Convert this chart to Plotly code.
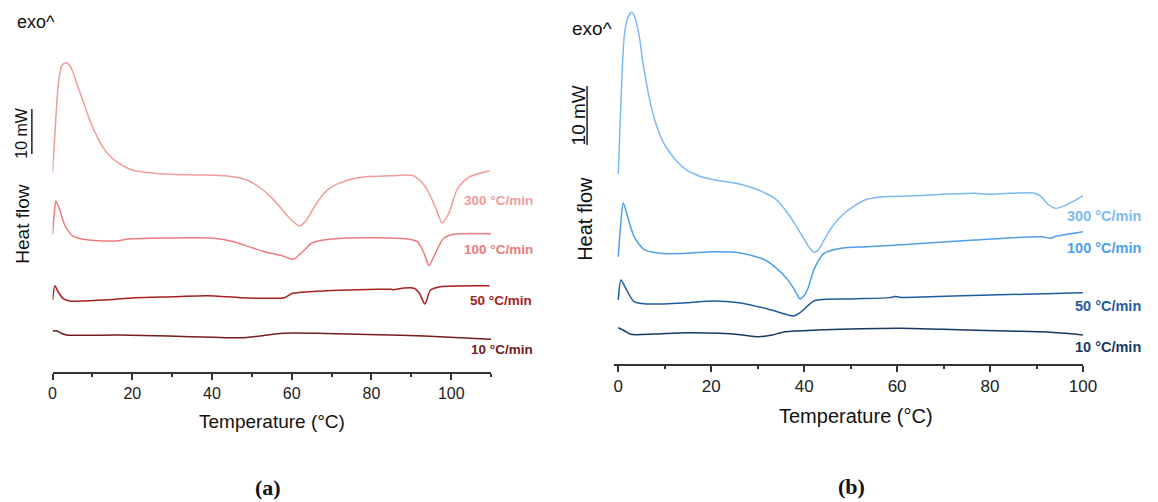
import plotly.graph_objects as go

W, H = 1158, 502
FONT = "Liberation Sans, Arial, sans-serif"

# ---------------- Panel (a): heat flow (mW, stacked), temperature in °C ----------------
a300_T = [0, 0.6, 1.4, 2.2, 2.8, 3.46, 4.2, 5.1, 6.3, 7.6, 8.8, 10.0, 11.3, 12.5, 14.5, 16.6,
          18.6, 20.7, 25, 29, 37.2, 43.8, 46.5, 48.7, 50.8, 52.8, 55, 57.0, 59.4, 61.9, 63.5,
          65.2, 66.8, 68.3, 70.1, 74.2, 79, 85, 89, 90.5, 91.5, 92.8, 94, 96, 97.7, 99.4,
          101.4, 103, 104.7, 107, 109.6]
a300_Q = [44.29, 53.04, 63.4, 67.84, 68.55, 68.73, 68.2, 66.73, 63.5, 60.4, 57.3, 54.5, 52.1,
          50.1, 47.9, 46.4, 45.4, 44.73, 44.2, 43.93, 43.78, 43.56, 43.2, 42.67, 41.7, 40.44,
          38.7, 36.73, 34.22, 32.44, 33.56, 36.0, 38.22, 39.9, 41.18, 42.67, 43.44, 43.62,
          43.78, 43.6, 43.04, 42.0, 40.44, 36.73, 33.18, 35.27, 40.44, 42.3, 43.4, 44.1, 44.67]

a100_T = [0, 0.4, 0.84, 1.8, 3.06, 5.1, 9.2, 15.8, 19.1, 29, 40.5, 45.4, 50.4, 53.7, 57.8,
          60.4, 62.7, 65.2, 70.1, 81.6, 89, 91.5, 93.2, 94.4, 96, 98.1, 100.6, 110]
a100_Q = [30.6, 34.89, 38.0, 36.0, 32.67, 30.22, 29.33, 29.11, 29.56, 29.78, 29.71, 28.96,
          27.49, 26.6, 25.78, 25.04, 26.73, 28.73, 29.56, 29.84, 29.56, 28.96, 26.38, 23.62,
          26.38, 29.71, 30.6, 30.73]

a50_T = [0, 0.6, 1.4, 2.6, 4.3, 12.5, 20.7, 30.6, 38.9, 47.1, 53.7, 58.2, 60.2, 64.4, 81.6,
         85.0, 85.5, 86.2, 90.7, 92, 93.4, 94.8, 97.3, 109.6]
a50_Q = [16.0, 19.18, 17.84, 16.38, 15.78, 16.0, 16.51, 16.73, 16.96, 16.51, 16.38, 16.51,
         17.49, 17.84, 18.38, 18.38, 18.25, 18.4, 18.6, 17.49, 15.11, 18.22, 18.96, 19.18]

a10_T = [0, 1, 2.2, 3.5, 16.6, 29, 40.5, 47.1, 52, 57.8, 66, 81.6, 93.2, 110]
a10_Q = [9.11, 9.18, 8.6, 8.22, 8.22, 8.0, 7.71, 7.62, 8.0, 8.6, 8.6, 8.29, 8.0, 7.27]

# ---------------- Panel (b) ----------------
b300_T = [0, 0.57, 1.27, 2.0, 2.82, 3.5, 4.1, 4.7, 5.2, 5.9, 6.6, 7.4, 8.3, 9.6, 11.2, 12.9,
          14.7, 16.4, 18.2, 21.5, 25.3, 28, 30.2, 31.8, 33.1, 34.6, 35.9, 37.3, 38.8, 40.1,
          41.2, 42.2, 43.2, 44.3, 45.7, 47.2, 48.6, 50, 53.5, 57, 62.7, 69.8, 76.8, 79.7,
          83.9, 89.6, 91, 92.4, 94.1, 95.9, 98, 100]
b300_Q = [32.2, 44.75, 55.47, 58.64, 59.61, 58.9, 57.17, 54.6, 51.53, 48.3, 45.31, 42.6, 40.22,
          37.7, 35.71, 34.1, 32.88, 32.2, 31.64, 31.1, 30.63, 30.1, 29.49, 28.9, 28.36, 27.4,
          26.1, 24.6, 22.7, 21.02, 19.6, 18.93, 19.5, 21.02, 22.9, 24.41, 25.5, 26.39, 27.92,
          28.36, 28.47, 28.76, 28.93, 28.76, 28.93, 28.93, 28.36, 27.12, 26.39, 26.78, 27.6,
          28.53]

b100_T = [0, 0.5, 1.06, 2, 3.4, 5.5, 9, 14.7, 20.3, 26, 31.6, 35.2, 37.0, 38.2, 39.1, 40.0,
          40.8, 42.2, 44.3, 47.9, 53.5, 62.7, 76.8, 91, 93.1, 94, 100]
b100_Q = [18.19, 23.56, 27.34, 24.97, 21.58, 19.44, 18.76, 18.76, 19.03, 18.86, 17.63, 15.37,
          13.7, 12.2, 11.02, 11.6, 12.8, 16.2, 18.76, 19.61, 19.88, 20.29, 21.02, 21.58, 21.3,
          21.6, 22.42]

b50_T = [0, 0.56, 1.6, 3.4, 6.2, 14.7, 20.3, 26, 31.6, 35.9, 37.8, 39.4, 42.2, 50, 58.5,
         59.5, 60.5, 67, 80, 100]
b50_Q = [10.85, 14.24, 12.83, 10.56, 10.17, 10.39, 10.68, 10.39, 9.44, 8.47, 8.14, 8.86,
         10.73, 11.02, 11.25, 11.45, 11.3, 11.41, 11.69, 12.08]

b10_T = [0, 1.3, 2.7, 7.6, 14.7, 21.8, 26.7, 30.2, 33.1, 35.9, 42.9, 60.6, 69.8, 83.9, 92.4, 100]
b10_Q = [6.15, 5.64, 5.03, 5.08, 5.31, 5.2, 4.92, 4.63, 4.92, 5.47, 5.76, 6.05, 5.88, 5.59,
         5.42, 4.92]

rate_labels = ["300 °C/min", "100 °C/min", "50 °C/min", "10 °C/min"]
red_colors = ["#F29B9B", "#EC7C7C", "#A62121", "#761C1C"]
blue_colors = ["#7DB9F3", "#4D9EEB", "#1F5B9F", "#173A61"]

# label anchor heights (mW) next to the curve ends, and left edge of each label (page px)
a_label_Q = [38.2, 27.3, 16.0, 5.1]
a_label_px = [465, 465, 471, 472]
b_label_Q = [25.1, 19.6, 9.8, 2.8]
b_label_px = [1078, 1078, 1086, 1086]


def xp(px):
    return px / W


def yp(py):
    return 1 - py / H


fig = go.Figure()

a_series = [(a300_T, a300_Q), (a100_T, a100_Q), (a50_T, a50_Q), (a10_T, a10_Q)]
b_series = [(b300_T, b300_Q), (b100_T, b100_Q), (b50_T, b50_Q), (b10_T, b10_Q)]

for (t, q), c, name in zip(a_series, red_colors, rate_labels):
    fig.add_trace(go.Scatter(x=t, y=q, mode="lines", name=name,
                             line=dict(color=c, width=1.5, shape="spline", smoothing=0.7),
                             xaxis="x", yaxis="y", showlegend=False))
for (t, q), c, name in zip(b_series, blue_colors, rate_labels):
    fig.add_trace(go.Scatter(x=t, y=q, mode="lines", name=name,
                             line=dict(color=c, width=1.5, shape="spline", smoothing=0.7),
                             xaxis="x2", yaxis="y2", showlegend=False))

axis_common = dict(
    showline=True, linecolor="#333333", linewidth=2,
    ticks="outside", ticklen=6, tickwidth=1.5, tickcolor="#333333",
    dtick=20, tick0=0, showgrid=False, zeroline=False,
    minor=dict(ticks="outside", ticklen=3, tickwidth=1.5, tickcolor="#333333",
               dtick=10, tick0=0, showgrid=False),
)

fig.update_layout(
    width=W, height=H,
    margin=dict(l=0, r=0, t=0, b=0),
    paper_bgcolor="white", plot_bgcolor="white",
    xaxis=dict(domain=[xp(49.3), xp(494.8)], range=[0, 110], anchor="y",
               tickfont=dict(family=FONT, color="#222222", size=16), **axis_common),
    yaxis=dict(domain=[1 - 372 / H, 1], range=[0, 372 / 4.5], visible=False, anchor="x"),
    xaxis2=dict(domain=[xp(619.3), xp(1096)], range=[-1, 100], anchor="y2",
                tickfont=dict(family=FONT, color="#222222", size=17), **axis_common),
    yaxis2=dict(domain=[1 - 364 / H, 1], range=[0, 364 / 5.9], visible=False, anchor="x2"),
)

# 10 mW scale bars (horizontal position in page space, height in mW)
fig.add_shape(type="line", xref="paper", yref="y", x0=xp(28.3), x1=xp(28.3), y0=48.44, y1=58.44,
              line=dict(color="#222222", width=1.5))
fig.add_shape(type="line", xref="paper", yref="y2", x0=xp(592.3), x1=xp(592.3), y0=37.12, y1=47.12,
              line=dict(color="#222222", width=1.5))

ann = []
for lab, c, q, px in zip(rate_labels, red_colors, a_label_Q, a_label_px):
    ann.append(dict(x=xp(px), y=q, xref="paper", yref="y", text=lab, showarrow=False,
                    xanchor="left", yanchor="middle",
                    font=dict(family=FONT, size=13.5, color=c, weight="bold")))
for lab, c, q, px in zip(rate_labels, blue_colors, b_label_Q, b_label_px):
    ann.append(dict(x=xp(px), y=q, xref="paper", yref="y2", text=lab, showarrow=False,
                    xanchor="left", yanchor="middle",
                    font=dict(family=FONT, size=14.5, color=c, weight="bold")))


def txt(px, py, s, size, angle=0, family=FONT, bold=False, anchor="center"):
    ann.append(dict(x=xp(px), y=yp(py), xref="paper", yref="paper", text=s,
                    showarrow=False, xanchor=anchor, yanchor="middle", textangle=angle,
                    font=dict(family=family, size=size, color="#111111",
                              weight="bold" if bold else "normal")))


# panel (a) annotations
txt(11, 22, "exo^", 18, anchor="left")
txt(17.5, 132.5, "10 mW", 16, angle=-90)
txt(18, 224, "Heat flow", 19, angle=-90)
txt(272.5, 421, "Temperature (°C)", 19)
txt(268, 487, "(a)", 22, family="Liberation Serif, serif", bold=True)

# panel (b) annotations
txt(575, 29, "exo^", 19, anchor="left")
txt(584, 115.5, "10 mW", 19, angle=-90)
txt(590, 219, "Heat flow", 20, angle=-90)
txt(865.5, 415.5, "Temperature (°C)", 20)
txt(861, 486, "(b)", 22, family="Liberation Serif, serif", bold=True)

fig.update_layout(annotations=ann)

fig.write_html("out.html")
